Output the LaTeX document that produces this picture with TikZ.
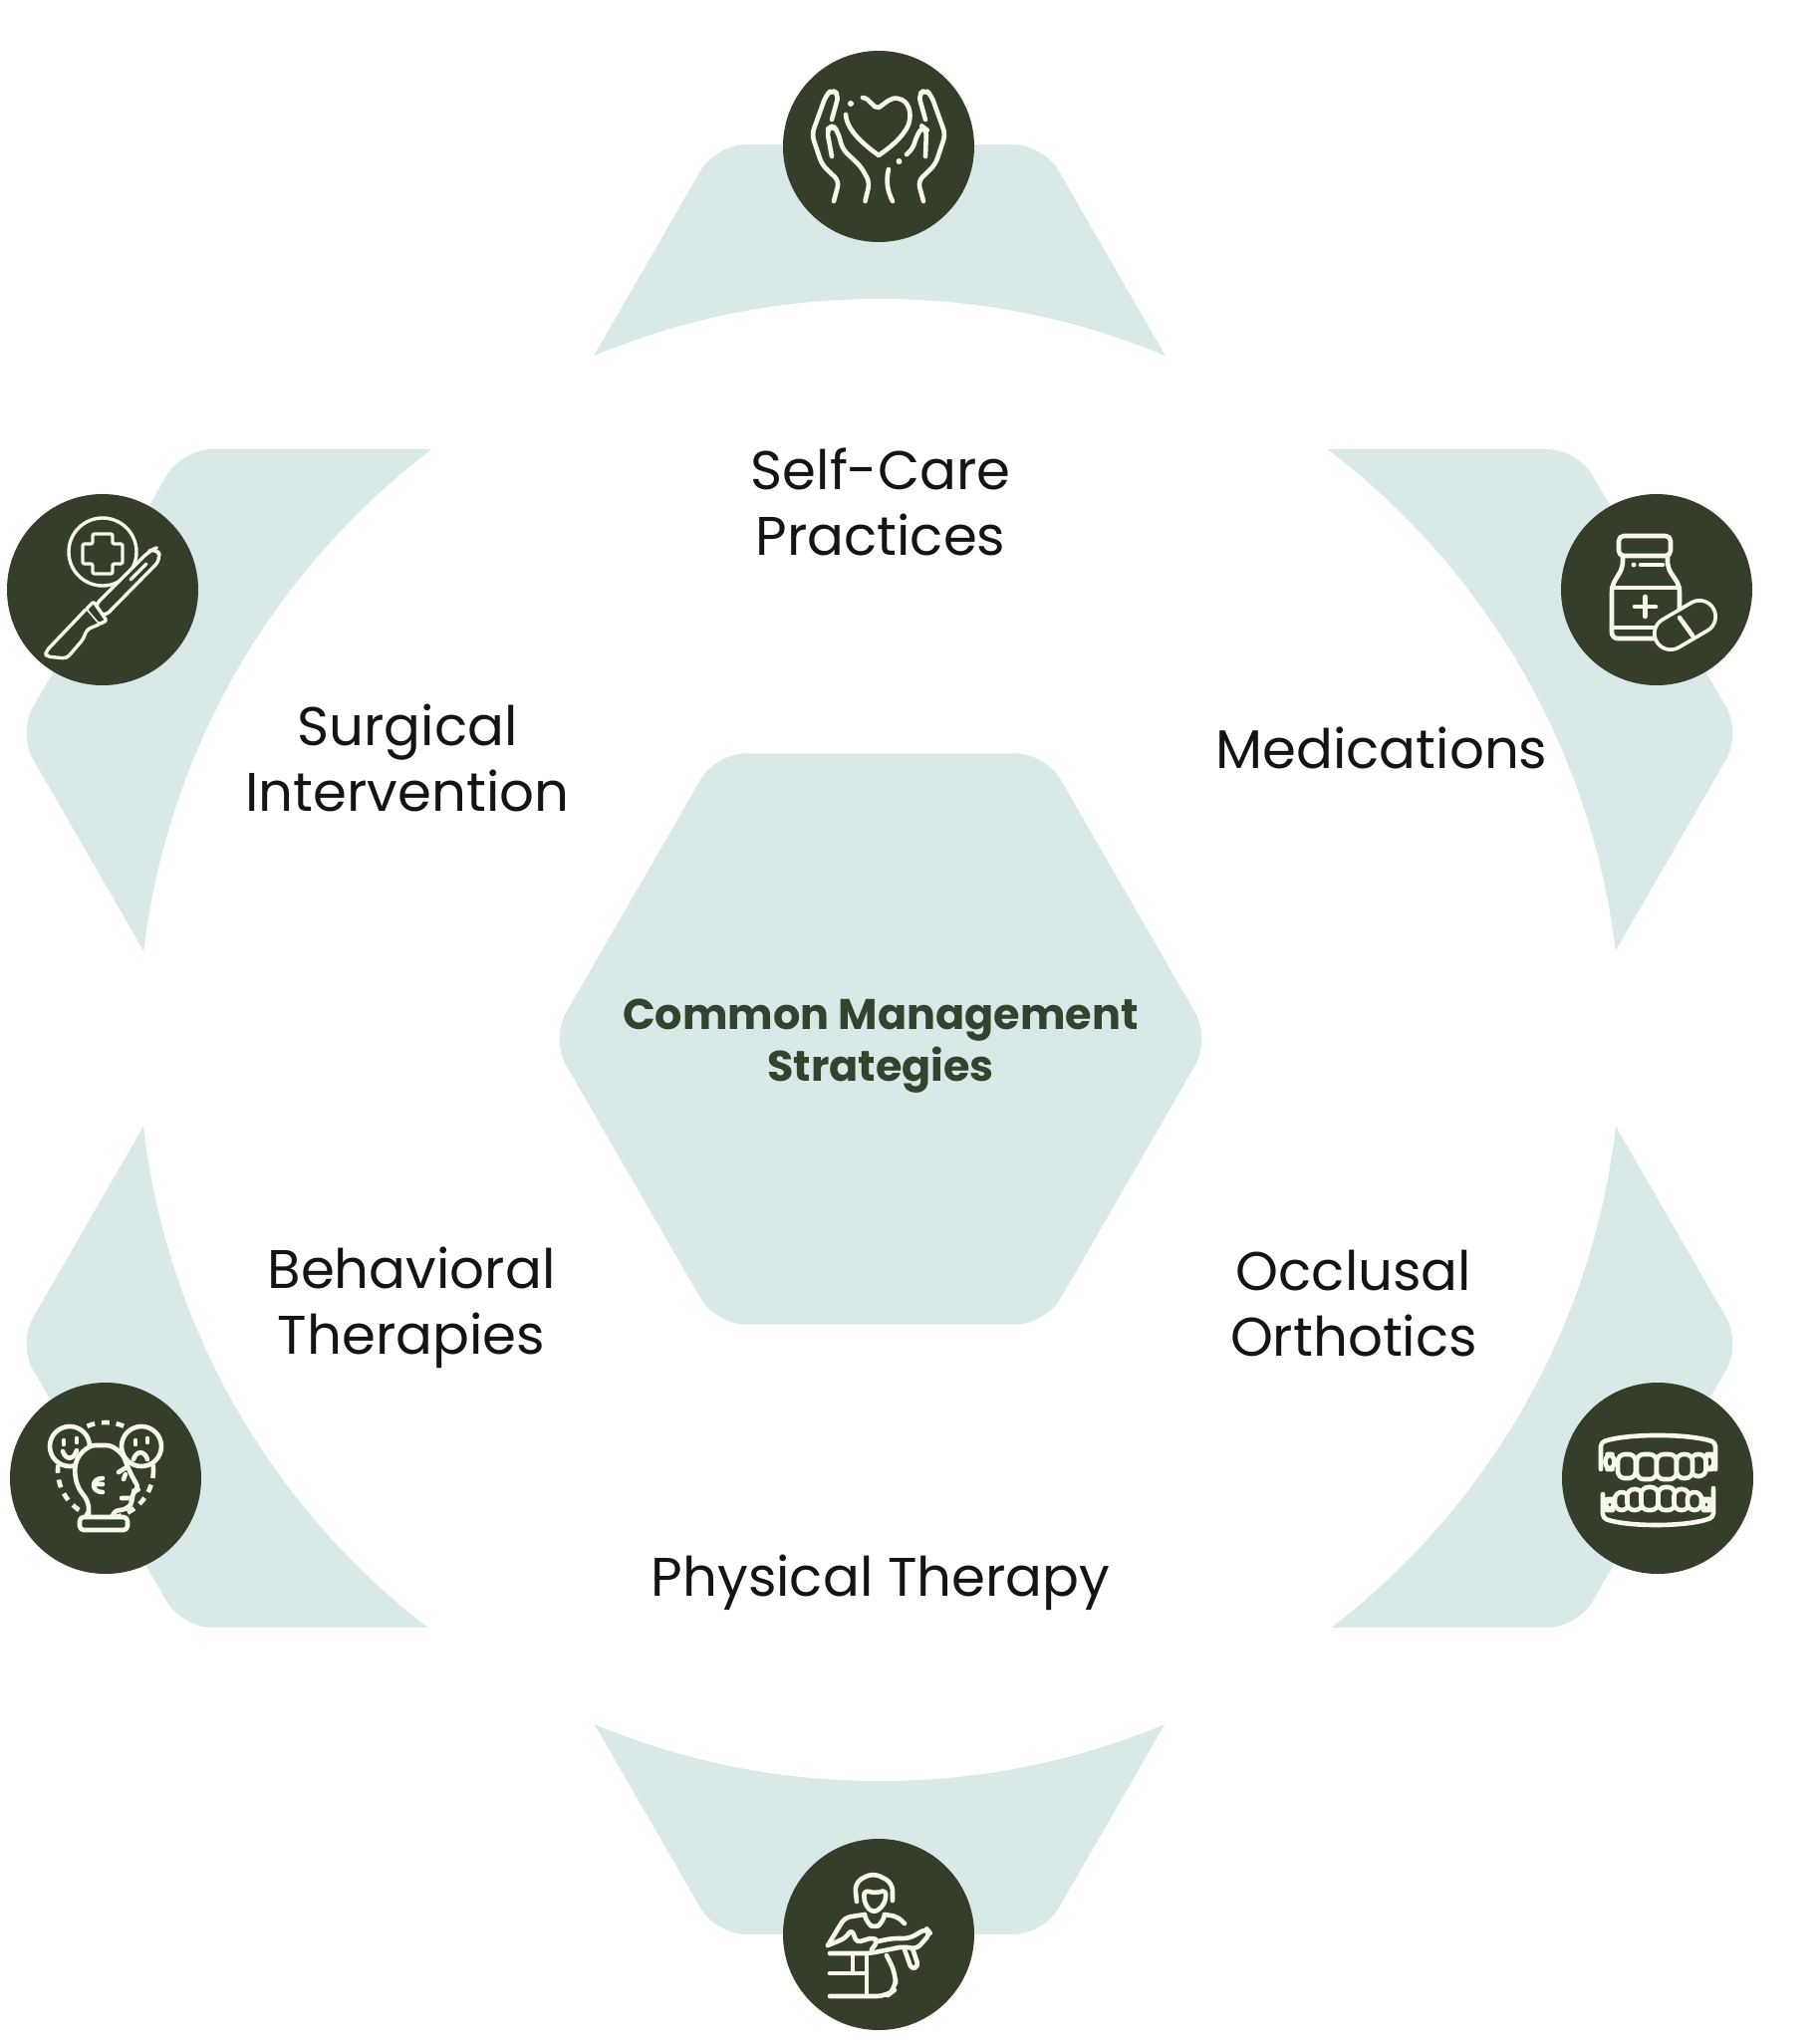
\documentclass[tikz,border=0pt]{standalone}
\usepackage{fontspec}
\setmainfont{Poppins}
\usetikzlibrary{shapes.geometric}
\definecolor{paleteal}{HTML}{D9E9E7}
\definecolor{darkolive}{HTML}{353E2A}
\definecolor{iconcream}{HTML}{F6F8EC}
\definecolor{titlegreen}{HTML}{33432E}
\tikzstyle{hexcell} = [regular polygon, regular polygon sides=6, fill=paleteal, minimum size=329pt, inner sep=0pt, outer sep=0pt, rounded corners=15pt]
\tikzstyle{iconbg} = [circle, fill=darkolive, minimum size=96pt, inner sep=0pt, outer sep=0pt]
\tikzstyle{lbl} = [align=center, text=black!92, font=\fontsize{27.3}{33}\selectfont]
\tikzstyle{iconline} = [draw=iconcream, line width=2.3pt, line cap=round, line join=round]

\begin{document}
\begin{tikzpicture}[x=0.5pt,y=-0.5pt]
\useasboundingbox (0,0) rectangle (1826,2052);

% six outer cells, then the white disc cuts them
\node[hexcell] (hexTop) at (883,430) {};
\node[hexcell] (hexUR) at (1419,736) {};
\node[hexcell] (hexLR) at (1419,1349) {};
\node[hexcell] (hexBot) at (883,1657) {};
\node[hexcell] (hexLL) at (347,1349) {};
\node[hexcell] (hexUL) at (347,736) {};
\node[circle, fill=white, minimum size=744pt, inner sep=0pt] (disc) at (883,1044) {};
\node[hexcell, minimum size=331pt] (hexMid) at (884,1043) {};

\node[align=center, text=titlegreen, font=\fontsize{21.5}{26.3}\selectfont\bfseries] (title) at (884,1050) {Common Management\\Strategies};
\node[lbl] (selfcare) at (884,504) {Self-Care\\Practices};
\node[lbl] (meds) at (1387,751) {Medications};
\node[lbl] (surgical) at (409,761) {Surgical\\Intervention};
\node[lbl] (behav) at (413,1313) {Behavioral\\Therapies};
\node[lbl] (occl) at (1359,1309) {Occlusal\\Orthotics};
\node[lbl] (physio) at (884,1589) {Physical Therapy};

\node[iconbg] (circTop) at (882,147) {};
\node[iconbg] (circUR) at (1663,592) {};
\node[iconbg] (circLR) at (1664,1484) {};
\node[iconbg] (circBot) at (882,1942) {};
\node[iconbg] (circLL) at (106,1484) {};
\node[iconbg] (circUL) at (103,592) {};

% hands and heart
\begin{scope}[shift={(circTop.center)}]
\draw[iconline, rounded corners=3pt] (-45,55) -- (-39.6,35) -- (-57,18) -- (-67,-12) -- (-53,-51) -- (-47,-57) -- (-40,-52) -- (-47,-27);
\draw[iconline, rounded corners=3pt] (45,55) -- (39.6,35) -- (57,18) -- (67,-12) -- (53,-51) -- (47,-57) -- (40,-52) -- (47,-27);
\draw[iconline, rounded corners=3pt] (-47,10) -- (-52,-17) -- (-46,-21) -- (-41,-15) -- (-36,3) -- (-18,20) -- (-9,36) -- (-13.5,55);
\draw[iconline, rounded corners=3pt] (47,10) -- (48,-17) -- (44,-20) -- (38,-10) -- (34,3) -- (28,8);
\draw[iconline] (10,23) .. controls (7,35) and (9,45) .. (14,55);
\draw[iconline] (-16,-49) .. controls (-8,-48) and (-6,-38) .. (0,-39) .. controls (8,-44) and (12,-50) .. (20,-48) .. controls (30,-46) and (34,-34) .. (30,-22) .. controls (24,-8) and (10,2) .. (0,9) .. controls (-12,0) and (-32,-15) .. (-33,-32);
\fill[iconcream] (-28,-43) circle (3) (20.5,15) circle (3);
\end{scope}

% bottle and capsule
\begin{scope}[shift={(circUR.center)}]
\draw[iconline, rounded corners=2.5pt] (-38,-54) rectangle (14,-34);
\draw[iconline, rounded corners=3pt] (-34,-34) -- (-34,-22) -- (-45,-4) -- (-45,49) -- (0,49);
\draw[iconline, rounded corners=3pt] (11,-34) -- (11,-22) -- (23,-4) -- (23,20);
\draw[iconline] (-45,-2) -- (23,-2) (-45,38) -- (0,38) (-11.7,7) -- (-11.7,27) (-22,17) -- (-1,17) (-16,-25) -- (6,-25);
\fill[iconcream] (-23,-25) circle (2.5);
\draw[line width=18pt, draw=iconcream, line cap=round] (14,44) -- (43,27);
\draw[line width=14.2pt, draw=darkolive, line cap=round] (14,44) -- (43,27);
\draw[iconline] (23,28) -- (36,46);
\end{scope}

% scalpel and cross
\begin{scope}[shift={(circUL.center)}, iconline/.append style={line width=1.7pt}]
\draw[iconline] (0,-38) circle (34);
\draw[iconline, rounded corners=1pt] (-10,-56) -- (10,-56) -- (10,-46) -- (20,-46) -- (20,-26) -- (10,-26) -- (10,-16) -- (-10,-16) -- (-10,-26) -- (-20,-26) -- (-20,-46) -- (-10,-46) -- cycle;
\draw[iconline, fill=darkolive, rounded corners=4pt] (47,-39) -- (54,-42) -- (59,-31) -- (1,28) -- (-9,17) -- cycle;
\draw[iconline, fill=darkolive, rounded corners=1pt] (-17,20) -- (-9,12) -- (4,31) -- (-4,35) -- cycle;
\draw[iconline, fill=darkolive, rounded corners=2pt] (-17,20) -- (-57,62) -- (-57,67) -- (-36,69) -- (-19,49) -- (-16,40) -- (-4,35);
\draw[iconline] (28,-10) -- (44,-26);
\end{scope}

% head between two faces
\begin{scope}[shift={(circLL.center)}]
\draw[iconline, dash pattern=on 4pt off 3.4pt, line cap=butt] (0,-8) circle (48);
\draw[iconline, fill=darkolive] (-36,-32) circle (20) (36,-32) circle (20);
\draw[iconline] (-42,-38) -- (-42,-34) (-29,-40) -- (-29,-36) (30,-38) -- (30,-34) (42,-40) -- (42,-36);
\draw[iconline] (-43,-27) .. controls (-40,-18) and (-32,-18) .. (-29,-28);
\draw[iconline] (28,-19) .. controls (31,-28) and (39,-28) .. (42,-19);
\draw[iconline, fill=darkolive, rounded corners=3pt] (-17,40) -- (-17,24) -- (-28,9) -- (-31,-4) .. controls (-30,-25) and (-16,-33) .. (-5,-33) .. controls (8,-33) and (17,-25) .. (21,-14) -- (27,-1) -- (34,11) -- (27,13) -- (27,24) -- (22,31) -- (7,33) -- (7,40);
\draw[iconline] (16,20) -- (26,20) (13,-6) -- (21,-11) (18,1) -- (20,-4);
\draw[iconline] (-3,0) .. controls (-15,0) and (-15,14) .. (-3,14) (-10,6) -- (-3,6);
\draw[iconline, fill=darkolive, rounded corners=2pt] (-26,39) rectangle (22,52);
\end{scope}

% dentures
\begin{scope}[shift={(circLR.center)}]
\draw[iconline, rounded corners=2pt] (-57,-9) -- (-57,-36) .. controls (-30,-45) and (30,-45) .. (58,-36) -- (58,-9);
\draw[iconline, rounded corners=2pt] (-55,16) -- (-55,40) .. controls (-30,49) and (30,49) .. (56,39) -- (56,10);
\foreach \tx/\tw/\th in {-48/9/15, 52/9/15, -31/18/24, 41/15/22, -11/20/25, 9/20/25, 27/16/24}
  \draw[iconline, fill=darkolive, rounded corners=3.5pt] ({\tx-\tw/2},-24) rectangle ({\tx+\tw/2},{-24+\th});
\foreach \tx/\tw/\th in {-48/8/11, 49/8/11, -36/14/18, -23/15/21, -8/17/23, 9/17/23, 24/15/21, 37/14/18}
  \draw[iconline, fill=darkolive, rounded corners=3.5pt] ({\tx-\tw/2},{32-\th}) rectangle ({\tx+\tw/2},32);
\end{scope}

% therapist and patient
\begin{scope}[shift={(circBot.center)}]
\draw[iconline, rounded corners=4pt] (-22,-33) -- (-24,-52) -- (-6,-62) -- (14,-52) -- (14,-34);
\draw[iconline, rounded corners=3pt] (-15,-45) -- (-14,-30) -- (-5,-21) -- (6,-30) -- (8,-45) -- (-4,-41) -- cycle;
\draw[iconline, rounded corners=3pt] (-14,-20) -- (-12,-12) -- (-4,-6) -- (4,-12) -- (6,-20);
\draw[iconline, rounded corners=3pt] (-51,11) -- (-34,-17) -- (-14,-20);
\draw[iconline, rounded corners=3pt] (6,-20) -- (19,-18) -- (26,-11);
\draw[iconline, rounded corners=2pt] (-51,11) -- (-34,4) -- (-27,-5) -- (-22,8) -- (-5,3) -- (-1,7) -- (-7,15);
\draw[iconline, rounded corners=3pt] (-1,7) -- (13,4) -- (31,4) -- (48,-6) -- (52,-1) -- (38,15) -- (26,12) -- (-9,19) -- (-49,19);
\draw[iconline, rounded corners=2pt] (26,15) -- (33,35) -- (40,32) -- (34,14);
\draw[iconline] (-26,19) -- (-26,39) (-12,22) -- (-12,62) (-49,39) -- (-12,39);
\draw[iconline, rounded corners=5pt] (-49,62) -- (8,62) -- (17,55) -- (17,39) -- (8,21);
\end{scope}
\end{tikzpicture}
\end{document}
